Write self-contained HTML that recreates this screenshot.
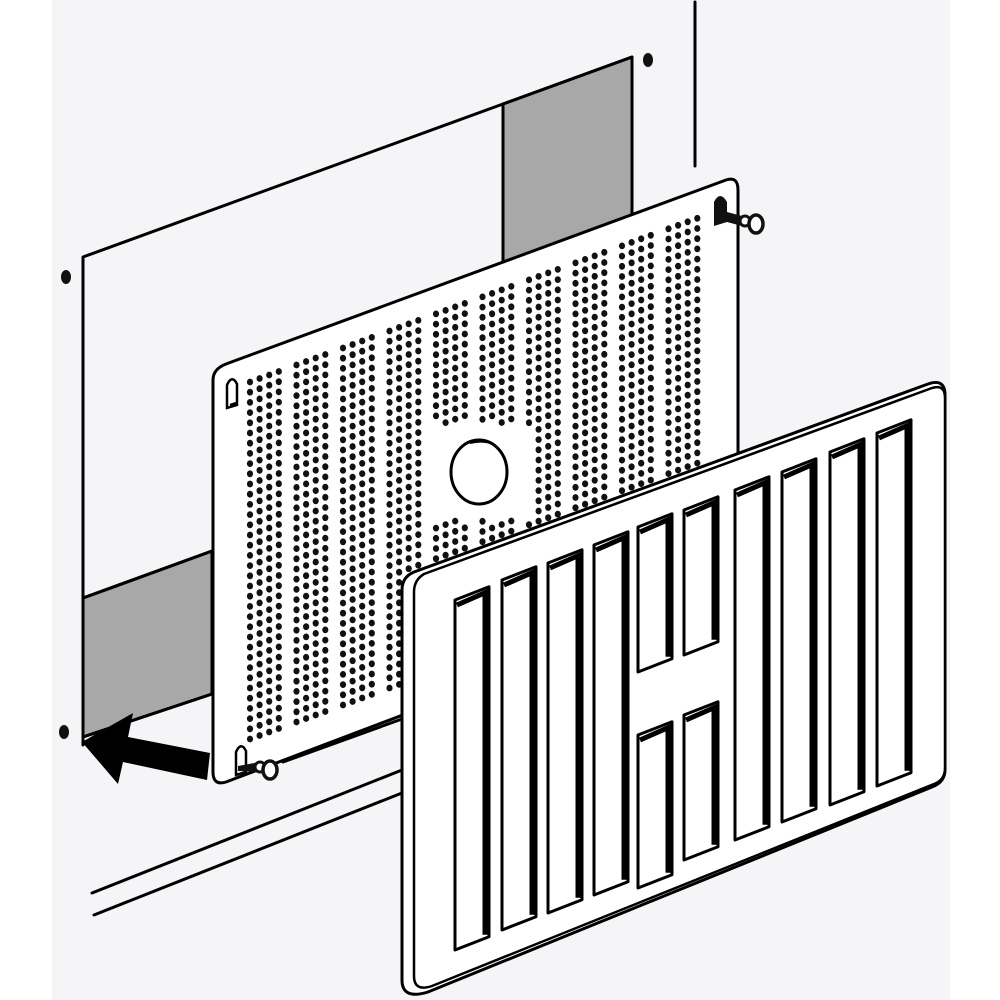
<!DOCTYPE html>
<html><head><meta charset="utf-8"><style>
html,body{margin:0;padding:0;background:#fff;width:1000px;height:1000px;overflow:hidden}
svg{display:block}
</style></head><body>
<svg id="s" width="1000" height="1000" viewBox="0 0 1000 1000" xmlns="http://www.w3.org/2000/svg">
<rect x="0" y="0" width="1000" height="1000" fill="#fff"/>
<rect x="52" y="0" width="898" height="1000" fill="#f5f5f7"/>
<g stroke="#000" stroke-width="3" fill="none" stroke-linecap="round" stroke-linejoin="round">
  <!-- wall vertical line -->
  <line x1="695" y1="2" x2="695" y2="166"/>
  <!-- floor lines -->
  <line x1="92" y1="893" x2="402" y2="770"/>
  <line x1="94" y1="915" x2="402" y2="793"/>
  <!-- back board -->
  <polygon points="503,104 632,57 632,216 503,264" fill="#a8a8a8"/>
  <polygon points="83,598 212,551 212,694 83,737" fill="#a8a8a8"/>
  <polyline points="83,745 83,257 632,57 632,216"/>
  <line x1="503" y1="104" x2="503" y2="264"/>
  <line x1="83" y1="598" x2="212" y2="551"/>
  <line x1="83" y1="737" x2="212" y2="694"/>
  <line x1="283" y1="762" x2="402" y2="719"/>
</g>
<!-- screw holes -->
<g fill="#111">
  <ellipse cx="66" cy="277" rx="5" ry="7"/>
  <ellipse cx="648" cy="60" rx="5" ry="7"/>
  <ellipse cx="64" cy="732" rx="5" ry="7"/>
</g>
<!-- perforated plate -->
<path d="M226,364 L726,180 Q738,176 738,190 L738,588 L226,782 Q213,786 213,772 L213,380 Q213,369 226,364 Z" fill="#fff" stroke="#000" stroke-width="3"/>
<g id="dots" fill="#111"></g>
<ellipse cx="479" cy="472" rx="28" ry="32" fill="#fff" stroke="#000" stroke-width="3"/>
<path d="M470,443 Q500,436 506,465" stroke="#000" stroke-width="2" fill="none"/>
<!-- slots on plate -->
<g stroke="#000" stroke-width="2.5" fill="#fff">
  <path d="M227,408 L227,385 Q232,374 237,384 L237,405 Z"/>
  <path d="M230,405 L236,403" />
  <path d="M236,775 L236,752 Q241,741 246,751 L246,772 Z"/>
</g>
<!-- keyhole top right -->
<path d="M714,226 L714,202 Q720,190 727,202 L727,212 L742,216 L742,226 L727,222 L727,222 Z" fill="#111"/>
<ellipse cx="745" cy="221" rx="5" ry="5" fill="#fff" stroke="#111" stroke-width="3"/>
<ellipse cx="756" cy="224" rx="7" ry="9" fill="#fff" stroke="#111" stroke-width="3.5"/>
<!-- screw bottom left -->
<path d="M238,766 L260,762 L260,772 L238,771 Z" fill="#111"/>
<ellipse cx="260" cy="767" rx="5" ry="5" fill="#fff" stroke="#111" stroke-width="3"/>
<ellipse cx="270" cy="770" rx="7" ry="9" fill="#fff" stroke="#111" stroke-width="3.5"/>
<!-- arrow -->
<polygon points="82,742 133,713 128,737 210,753 207,780 123,762 118,784" fill="#000"/>
<!-- grille -->
<path d="M414,572 L928,384 Q945,378 945,395 L945,770 Q945,782 932,787 L428,992 Q402,1000 402,980 L402,590 Q402,577 414,572 Z" fill="#fff" stroke="#000" stroke-width="3"/>
<path d="M424,574 L932,388 Q945,384 945,398 L945,768 Q945,780 934,784 L432,986 Q414,992 414,976 L414,592 Q414,580 424,574 Z" fill="#fff" stroke="#000" stroke-width="2.5"/>
<g id="slots"></g>
</svg>
<script>
(function(){
var NS="http://www.w3.org/2000/svg";
var g=document.getElementById('dots');
var k=-0.366;
function topE(x){return 367+k*(x-220);}
function botE(x){return 782+k*(x-213);}
for(var grp=0;grp<10;grp++){
  var gx=250+grp*46.5;
  for(var c=0;c<4;c++){
    var x=gx+c*9.6;
    if(x>728)continue;
    var y0=topE(x)+26, y1=botE(x)-22;
    var base=367+k*(x-220);
    for(var y=y0;y<=y1;y+=10.2){
      if(x>428&&x<530&&Math.abs(y-472)<48)continue;
      var d=document.createElementNS(NS,'ellipse');
      d.setAttribute('cx',x.toFixed(1));d.setAttribute('cy',y.toFixed(1));
      d.setAttribute('rx','3.1');d.setAttribute('ry','3.4');
      g.appendChild(d);
    }
  }
}
var s=document.getElementById('slots');
var sl=-0.39, w=34;
var list=[[455,600,950],[502,580,930],[548,563,913],[594,545,895],[638,527,672],[638,735,888],[684,510,655],[684,715,860],[735,490,840],[782,472,822],[830,452,805],[877,433,786]];
list.forEach(function(a){
  var x=a[0],t=a[1],b=a[2],dy=w*sl;
  var p=document.createElementNS(NS,'polygon');
  p.setAttribute('points',x+','+t+' '+(x+w)+','+(t+dy)+' '+(x+w)+','+(b+dy)+' '+x+','+b);
  p.setAttribute('fill','#fff');p.setAttribute('stroke','#000');p.setAttribute('stroke-width','3');
  p.setAttribute('stroke-linejoin','round');
  s.appendChild(p);
  var q=document.createElementNS(NS,'polyline');
  q.setAttribute('points',(x+2)+','+(t+5)+' '+(x+w-4)+','+(t+dy+6)+' '+(x+w-4)+','+(b+dy-2));
  q.setAttribute('fill','none');q.setAttribute('stroke','#000');q.setAttribute('stroke-width','5');
  s.appendChild(q);
});
})();
</script>
</body></html>
